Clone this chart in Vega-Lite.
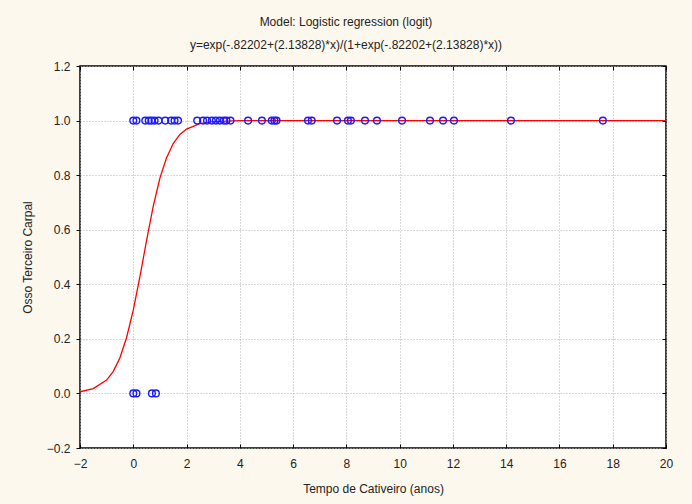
{
  "$schema": "https://vega.github.io/schema/vega-lite/v6.json",
  "width": 586,
  "height": 382,
  "autosize": {"type": "none"},
  "padding": {"left": 80, "top": 66, "right": 26, "bottom": 56},
  "background": "#fdf8ee",
  "title": {
    "text": ["Model: Logistic regression (logit)", "y=exp(-.82202+(2.13828)*x)/(1+exp(-.82202+(2.13828)*x))"],
    "font": "Liberation Sans",
    "fontSize": 12,
    "fontWeight": "normal",
    "color": "#222",
    "lineHeight": 23,
    "anchor": "middle",
    "frame": "group",
    "dx": -27,
    "offset": 8
  },
  "config": {
    "view": {"fill": "white", "stroke": "black", "strokeWidth": 1.5},
    "axis": {
      "labelFont": "Liberation Sans",
      "titleFont": "Liberation Sans",
      "labelFontSize": 12,
      "titleFontSize": 12,
      "titleFontWeight": "normal",
      "labelColor": "#222",
      "titleColor": "#222",
      "labelFlush": false,
      "labelOverlap": false,
      "domain": false,
      "tickColor": "black",
      "gridColor": "#b0b0b0",
      "gridDash": [1, 2],
      "gridWidth": 1
    }
  },
  "datasets": {
    "obs": [
      {"t": 0.0, "v": 1}, {"t": 0.12, "v": 1}, {"t": 0.45, "v": 1}, {"t": 0.58, "v": 1},
      {"t": 0.68, "v": 1}, {"t": 0.8, "v": 1}, {"t": 0.95, "v": 1}, {"t": 1.2, "v": 1},
      {"t": 1.42, "v": 1}, {"t": 1.55, "v": 1}, {"t": 1.68, "v": 1}, {"t": 2.4, "v": 1},
      {"t": 2.62, "v": 1}, {"t": 2.77, "v": 1}, {"t": 2.95, "v": 1}, {"t": 3.1, "v": 1},
      {"t": 3.25, "v": 1}, {"t": 3.4, "v": 1}, {"t": 3.5, "v": 1}, {"t": 3.65, "v": 1},
      {"t": 4.31, "v": 1}, {"t": 4.83, "v": 1}, {"t": 5.2, "v": 1}, {"t": 5.3, "v": 1},
      {"t": 5.38, "v": 1}, {"t": 6.56, "v": 1}, {"t": 6.7, "v": 1}, {"t": 7.65, "v": 1},
      {"t": 8.06, "v": 1}, {"t": 8.17, "v": 1}, {"t": 8.7, "v": 1}, {"t": 9.15, "v": 1},
      {"t": 10.09, "v": 1}, {"t": 11.14, "v": 1}, {"t": 11.63, "v": 1}, {"t": 12.04, "v": 1},
      {"t": 14.18, "v": 1}, {"t": 17.63, "v": 1},
      {"t": 0.0, "v": 0}, {"t": 0.12, "v": 0}, {"t": 0.7, "v": 0}, {"t": 0.85, "v": 0}
    ],
    "fit": [
      {"t": -2, "p": 0.006}, {"t": -1.5, "p": 0.0175}, {"t": -1, "p": 0.049},
      {"t": -0.75, "p": 0.081}, {"t": -0.5, "p": 0.131}, {"t": -0.25, "p": 0.205},
      {"t": 0, "p": 0.305}, {"t": 0.25, "p": 0.428}, {"t": 0.5, "p": 0.561},
      {"t": 0.75, "p": 0.686}, {"t": 1, "p": 0.789}, {"t": 1.25, "p": 0.864},
      {"t": 1.5, "p": 0.916}, {"t": 1.75, "p": 0.949}, {"t": 2, "p": 0.969},
      {"t": 2.5, "p": 0.989}, {"t": 3, "p": 0.996}, {"t": 4, "p": 0.9995},
      {"t": 5, "p": 1}, {"t": 20, "p": 1}
    ]
  },
  "layer": [
    {
      "data": {"name": "fit"},
      "mark": {"type": "line", "color": "#ff0000", "strokeWidth": 1.3, "clip": true},
      "encoding": {
        "x": {"field": "t", "type": "quantitative",
              "scale": {"domain": [-2, 20], "nice": false, "zero": false},
              "axis": {"orient": "top", "values": [-2,0,2,4,6,8,10,12,14,16,18,20], "labels": false, "title": null, "grid": false, "tickSize": -4, "ticks": true}},
        "y": {"field": "p", "type": "quantitative",
              "scale": {"domain": [-0.2, 1.2], "nice": false, "zero": false},
              "axis": {"orient": "right", "values": [-0.2,0,0.2,0.4,0.6,0.8,1,1.2], "labels": false, "title": null, "grid": false, "tickSize": -4}}
      }
    },
    {
      "data": {"name": "obs"},
      "mark": {"type": "point", "shape": "circle", "filled": false, "color": "#1a1aff", "opacity": 1, "size": 45, "strokeWidth": 1.4},
      "encoding": {
        "x": {"field": "t", "type": "quantitative",
              "scale": {"domain": [-2, 20], "nice": false, "zero": false},
              "axis": {"orient": "bottom", "values": [-2,0,2,4,6,8,10,12,14,16,18,20], "format": "d", "title": "Tempo de Cativeiro (anos)", "grid": true, "tickSize": -4, "labelPadding": 14, "titlePadding": 14}},
        "y": {"field": "v", "type": "quantitative",
              "scale": {"domain": [-0.2, 1.2], "nice": false, "zero": false},
              "axis": {"orient": "left", "values": [-0.2,0,0.2,0.4,0.6,0.8,1,1.2], "format": ".1f", "title": "Osso Terceiro Carpal", "grid": true, "tickSize": 4, "labelPadding": 6, "titlePadding": 12}}
      }
    }
  ],
  "resolve": {"axis": {"x": "independent", "y": "independent"}}
}
